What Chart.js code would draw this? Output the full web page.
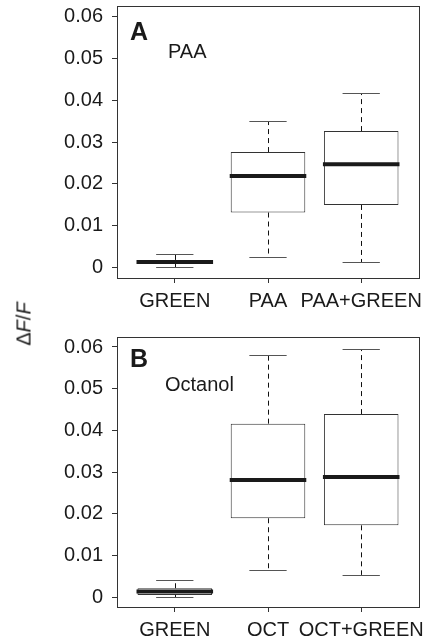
<!DOCTYPE html>
<html>
<head>
<meta charset="utf-8">
<script src="https://cdn.jsdelivr.net/npm/chart.js@4/dist/chart.umd.min.js"></script>
<style>
  html, body { margin:0; padding:0; background:#fff; }
  #wrap { position:relative; width:444px; height:641px; overflow:hidden; }
  canvas { position:absolute; left:0; }
  #ylab { position:absolute; left:24px; top:324px; transform:translate(-50%,-50%) rotate(-90deg);
          font-family:"Liberation Sans", Arial, sans-serif; font-size:20px; color:#1a1a1a; white-space:nowrap; }
</style>
</head>
<body>
<div id="wrap">
  <canvas id="cA" width="444" height="320" style="top:0"></canvas>
  <canvas id="cB" width="444" height="321" style="top:320px"></canvas>
  <div id="ylab">Δ<i>F</i>/<i>F</i></div>
</div>
<script>
// ---------- data ----------
const categoriesA = ["GREEN", "PAA", "PAA+GREEN"];
const lowA    = [0.0002, 0.0025, 0.0014];
const q1A     = [0.0010, 0.0132, 0.0150];
const medianA = [0.0014, 0.0219, 0.0247];
const q3A     = [0.0019, 0.0276, 0.0326];
const highA   = [0.0033, 0.0350, 0.0416];

const categoriesB = ["GREEN", "OCT", "OCT+GREEN"];
const lowB    = [0.0000, 0.0065, 0.0053];
const q1B     = [0.0005, 0.0189, 0.0172];
const medianB = [0.0013, 0.0281, 0.0288];
const q3B     = [0.0021, 0.0416, 0.0439];
const highB   = [0.0042, 0.0580, 0.0594];

const yTicks = [0, 0.01, 0.02, 0.03, 0.04, 0.05, 0.06];
const panelLetters = ["A", "B"];
const panelNames = ["PAA", "Octanol"];

// ---------- helpers ----------
const FONT = '"Liberation Sans", Arial, sans-serif';
const TXT = '#1a1a1a';

const boxPlugin = {
  id: 'boxExtras',
  afterDatasetsDraw(chart, args, opts) {
    const {ctx, chartArea} = chart;
    const xs = chart.scales.x, ys = chart.scales.y;
    const unit = xs.getPixelForValue(2) - xs.getPixelForValue(1);
    ctx.save();
    opts.low.forEach((lo, i) => {
      const cx = xs.getPixelForValue(i + 1);
      const yLo = ys.getPixelForValue(lo), yHi = ys.getPixelForValue(opts.high[i]);
      const yQ1 = ys.getPixelForValue(opts.q1[i]), yQ3 = ys.getPixelForValue(opts.q3[i]);
      const yMed = ys.getPixelForValue(opts.median[i]);
      // dashed whiskers
      ctx.strokeStyle = '#111';
      ctx.lineWidth = 1;
      ctx.setLineDash([5, 4]);
      ctx.beginPath();
      ctx.moveTo(Math.round(cx) + 0.5, yQ3); ctx.lineTo(Math.round(cx) + 0.5, yHi);
      ctx.moveTo(Math.round(cx) + 0.5, yQ1); ctx.lineTo(Math.round(cx) + 0.5, yLo);
      ctx.stroke();
      ctx.setLineDash([]);
      // caps
      const capHalf = unit * 0.2;
      ctx.strokeStyle = '#555';
      ctx.beginPath();
      ctx.moveTo(cx - capHalf, Math.round(yHi) + 0.5); ctx.lineTo(cx + capHalf, Math.round(yHi) + 0.5);
      ctx.moveTo(cx - capHalf, Math.round(yLo) + 0.5); ctx.lineTo(cx + capHalf, Math.round(yLo) + 0.5);
      ctx.stroke();
      // median
      const boxHalf = unit * 0.4;
      ctx.strokeStyle = '#1a1a1a';
      ctx.lineWidth = 4;
      ctx.beginPath();
      ctx.moveTo(cx - boxHalf - 1, yMed); ctx.lineTo(cx + boxHalf + 1, yMed);
      ctx.stroke();
    });
    // frame
    ctx.strokeStyle = '#333';
    ctx.lineWidth = 1;
    ctx.strokeRect(Math.round(chartArea.left) + 0.5, Math.round(chartArea.top) + 0.5,
                   Math.round(chartArea.right - chartArea.left), Math.round(chartArea.bottom - chartArea.top));
    // panel letter and name
    ctx.fillStyle = TXT;
    ctx.textBaseline = 'alphabetic';
    ctx.textAlign = 'left';
    ctx.font = 'bold 25px ' + FONT;
    ctx.fillText(opts.letter, chartArea.left + opts.letterDx, chartArea.top + opts.letterDy);
    ctx.font = '20px ' + FONT;
    ctx.fillText(opts.name, chartArea.left + opts.nameDx, chartArea.top + opts.nameDy);
    ctx.restore();
  }
};

function makeChart(id, cats, low, q1, med, q3, high, letter, name, padTop, xAxisH, layoutOpts) {
  return new Chart(document.getElementById(id), {
    type: 'bar',
    data: {
      datasets: [{
        data: cats.map((c, i) => ({ x: i + 1, y: [q1[i], q3[i]] })),
        backgroundColor: '#ffffff',
        borderColor: '#333333',
        borderWidth: 1,
        borderSkipped: false,
        barPercentage: 0.8,
        categoryPercentage: 1.0
      }]
    },
    options: {
      responsive: false,
      animation: false,
      devicePixelRatio: 1,
      layout: { padding: { left: 0, right: 25, top: padTop, bottom: 0 } },
      plugins: {
        legend: { display: false },
        tooltip: { enabled: false },
        boxExtras: Object.assign({ low, q1, median: med, q3, high, letter, name }, layoutOpts)
      },
      scales: {
        x: {
          type: 'linear',
          offset: false,
          min: 0.38, max: 3.62,
          afterBuildTicks: s => { s.ticks = cats.map((c, i) => ({ value: i + 1 })); },
          afterFit: s => { s.height = xAxisH; s.paddingLeft = 0; s.paddingRight = 0; },
          ticks: {
            callback: (v) => cats[Math.round(v) - 1] || '',
            font: { family: FONT, size: 20 },
            color: TXT,
            padding: 6,
            maxRotation: 0,
            autoSkip: false
          },
          grid: { offset: false, drawOnChartArea: false, drawTicks: true, tickLength: 5, color: '#333' },
          border: { display: true, color: '#333' }
        },
        y: {
          type: 'linear',
          min: -0.0024, max: 0.0624,
          afterBuildTicks: s => { s.ticks = yTicks.map(v => ({ value: v })); },
          afterFit: s => { s.width = 117; s.paddingTop = 0; s.paddingBottom = 0; },
          ticks: {
            callback: v => (v === 0 ? '0' : v.toFixed(2)),
            font: { family: FONT, size: 20 },
            color: TXT,
            padding: 9
          },
          grid: { drawOnChartArea: false, drawTicks: true, tickLength: 5, color: '#333' },
          border: { display: true, color: '#333' }
        }
      }
    },
    plugins: [boxPlugin]
  });
}

makeChart('cA', categoriesA, lowA, q1A, medianA, q3A, highA, panelLetters[0], panelNames[0], 6, 42,
  { letterDx: 13, letterDy: 34, nameDx: 51, nameDy: 52 });
makeChart('cB', categoriesB, lowB, q1B, medianB, q3B, highB, panelLetters[1], panelNames[1], 17, 34,
  { letterDx: 13, letterDy: 30, nameDx: 48, nameDy: 54 });
</script>
</body>
</html>
